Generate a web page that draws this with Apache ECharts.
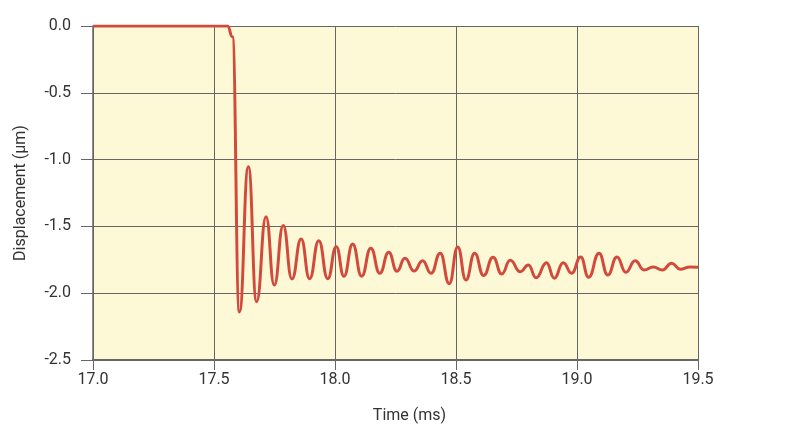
<!DOCTYPE html>
<html><head><meta charset="utf-8">
<script src="https://cdn.jsdelivr.net/npm/echarts@6/dist/echarts.min.js"></script>
<style>html,body{margin:0;padding:0;background:#fff}#c{width:800px;height:431px}</style>
</head><body><div id="c"></div>
<script>
const timeMs = [17.0,17.556,17.576,17.605,
17.642,17.676,17.715,17.749,17.786,17.822,17.860,17.895,17.933,17.970,18.005,18.037,
18.073,18.110,18.148,18.185,18.222,18.256,18.289,18.327,18.362,18.397,18.435,18.472,
18.507,18.541,18.577,18.614,18.653,18.689,18.724,18.766,18.799,18.831,18.874,18.906,
18.943,18.978,19.015,19.048,19.091,19.127,19.165,19.202,19.240,19.277,19.315,19.353,
19.391,19.426,19.467,19.5];
const displacement = [0,0,-0.08,-2.14,
-1.053,-2.064,-1.427,-1.939,-1.493,-1.894,-1.594,-1.892,-1.607,-1.892,-1.652,-1.873,
-1.632,-1.873,-1.664,-1.851,-1.694,-1.835,-1.739,-1.834,-1.757,-1.851,-1.701,-1.929,
-1.654,-1.901,-1.701,-1.868,-1.731,-1.856,-1.754,-1.839,-1.789,-1.885,-1.772,-1.888,
-1.772,-1.851,-1.729,-1.881,-1.701,-1.864,-1.729,-1.843,-1.757,-1.826,-1.804,-1.826,
-1.776,-1.820,-1.804,-1.806];
const xTicks = {min:17.0, max:19.5, step:0.5};
const yTicks = {min:-2.5, max:0.0, step:0.5};

const FONT = "'Roboto',sans-serif";
const chart = echarts.init(document.getElementById('c'), null, {renderer:'canvas'});
chart.setOption({
  animation:false,
  grid:{left:93,right:102,top:26,bottom:71,show:true,backgroundColor:'#fdf9d6',borderWidth:0},
  xAxis:{type:'value',min:xTicks.min,max:xTicks.max,interval:xTicks.step,
    name:'Time (ms)',nameLocation:'middle',nameGap:48,
    nameTextStyle:{fontFamily:FONT,fontSize:16,color:'#333',padding:[0,0,0,28]},
    axisLine:{show:true,onZero:false,lineStyle:{color:'#666',width:2}},
    axisTick:{show:true,length:10,lineStyle:{color:'#666',width:1}},
    axisLabel:{fontFamily:FONT,fontSize:16,color:'#333',margin:12,formatter:v=>v.toFixed(1)},
    splitLine:{show:true,lineStyle:{color:'#666',width:1}}},
  yAxis:{type:'value',min:yTicks.min,max:yTicks.max,interval:yTicks.step,
    name:'Displacement (µm)',nameLocation:'middle',nameGap:64,nameRotate:90,
    nameTextStyle:{fontFamily:FONT,fontSize:16,color:'#333'},
    axisLine:{show:true,onZero:false,lineStyle:{color:'#666',width:1.5}},
    axisTick:{show:true,length:12,inside:false,lineStyle:{color:'#666',width:1}},
    axisLabel:{fontFamily:FONT,fontSize:16,color:'#333',margin:22,formatter:v=>v.toFixed(1)},
    splitLine:{show:true,lineStyle:{color:'#666',width:1}}},
  series:[{type:'line',data:timeMs.map((t,i)=>[t,displacement[i]]),
    showSymbol:false,smooth:0.5,smoothMonotone:'x',
    lineStyle:{color:'#d24a3c',width:3},z:5}]
});
</script></body></html>
